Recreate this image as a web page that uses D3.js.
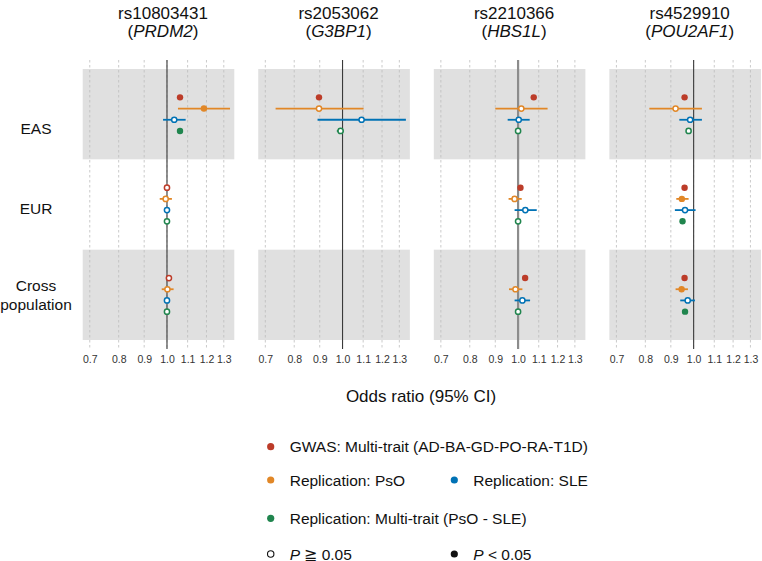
<!DOCTYPE html>
<html>
<head>
<meta charset="utf-8">
<script src="https://cdn.jsdelivr.net/npm/d3@7"></script>
<style>
  html, body { margin: 0; padding: 0; background: #fff; }
  svg { display: block; font-family: "Liberation Sans", Arial, Helvetica, sans-serif; }
</style>
</head>
<body>
<svg id="chart" width="762" height="561"></svg>
<script>
// ---------------- DATA ----------------
const snps = ["rs10803431", "rs2053062", "rs2210366", "rs4529910"];
const genes = ["PRDM2", "G3BP1", "HBS1L", "POU2AF1"];
const populations = ["EAS", "EUR", "Cross population"];
const seriesNames = [
  "GWAS: Multi-trait (AD-BA-GD-PO-RA-T1D)",
  "Replication: PsO",
  "Replication: SLE",
  "Replication: Multi-trait (PsO - SLE)"
];
const seriesColors = ["#BC3C29", "#E18727", "#0072B5", "#20854E"];
const tickValues = [0.7, 0.8, 0.9, 1.0, 1.1, 1.2, 1.3];

// rows: [population, series index, OR, lower CI, upper CI, significant (P < 0.05)]
const rsPRDM2 = [
  ["EAS", 0, 1.062, 1.062, 1.062, true],
  ["EAS", 1, 1.186, 1.052, 1.338, true],
  ["EAS", 2, 1.034, 0.982, 1.090, false],
  ["EAS", 3, 1.062, 1.058, 1.066, true],
  ["EUR", 0, 1.000, 0.997, 1.003, false],
  ["EUR", 1, 0.994, 0.967, 1.023, false],
  ["EUR", 2, 1.000, 0.997, 1.003, false],
  ["EUR", 3, 1.000, 0.998, 1.002, false],
  ["Cross population", 0, 1.009, 1.006, 1.012, false],
  ["Cross population", 1, 1.002, 0.976, 1.031, false],
  ["Cross population", 2, 1.000, 0.997, 1.003, false],
  ["Cross population", 3, 1.000, 0.998, 1.002, false]
];
const rsG3BP1 = [
  ["EAS", 0, 0.897, 0.897, 0.897, true],
  ["EAS", 1, 0.897, 0.734, 1.102, false],
  ["EAS", 2, 1.092, 0.891, 1.340, false],
  ["EAS", 3, 0.991, 0.974, 1.006, false]
];
const rsHBS1L = [
  ["EAS", 0, 1.075, 1.075, 1.075, true],
  ["EAS", 1, 1.015, 0.900, 1.146, false],
  ["EAS", 2, 1.003, 0.953, 1.055, false],
  ["EAS", 3, 1.000, 0.997, 1.003, false],
  ["EUR", 0, 1.011, 1.011, 1.011, true],
  ["EUR", 1, 0.984, 0.957, 1.017, false],
  ["EUR", 2, 1.034, 0.984, 1.090, false],
  ["EUR", 3, 1.000, 0.998, 1.002, false],
  ["Cross population", 0, 1.033, 1.033, 1.033, true],
  ["Cross population", 1, 0.988, 0.959, 1.020, false],
  ["Cross population", 2, 1.020, 0.984, 1.057, false],
  ["Cross population", 3, 1.000, 0.998, 1.002, false]
];
const rsPOU2AF1 = [
  ["EAS", 0, 0.959, 0.959, 0.959, true],
  ["EAS", 1, 0.920, 0.815, 1.039, false],
  ["EAS", 2, 0.984, 0.936, 1.039, false],
  ["EAS", 3, 0.977, 0.975, 0.979, false],
  ["EUR", 0, 0.959, 0.959, 0.959, true],
  ["EUR", 1, 0.947, 0.923, 0.977, true],
  ["EUR", 2, 0.961, 0.917, 1.009, false],
  ["EUR", 3, 0.950, 0.950, 0.950, true],
  ["Cross population", 0, 0.959, 0.959, 0.959, true],
  ["Cross population", 1, 0.946, 0.920, 0.974, true],
  ["Cross population", 2, 0.973, 0.940, 1.006, false],
  ["Cross population", 3, 0.961, 0.961, 0.961, true]
];
const panelData = [rsPRDM2, rsG3BP1, rsHBS1L, rsPOU2AF1];

// ---------------- LAYOUT ----------------
const svg = d3.select("#chart");
const panelLeft0 = 82.7, panelStep = 175.55, panelW = 151.6;
const gridTop = 60, gridBottom = 349;
const bandTop = 69, bandBottom = 340;
const xDomain = [0.6775, 1.3647];

const yRow = d3.scaleBand().domain(populations).range([bandTop, bandBottom]);
const yOff = d3.scalePoint().domain(d3.range(seriesNames.length)).range([-16.8, 16.8]);

snps.forEach((snp, i) => {
  const left = panelLeft0 + i * panelStep;
  const x = d3.scaleLog().domain(xDomain).range([left, left + panelW]);
  const g = svg.append("g");

  // alternating bands
  populations.forEach((p, k) => {
    if (k % 2 === 0) {
      g.append("rect")
        .attr("x", left).attr("width", panelW)
        .attr("y", yRow(p)).attr("height", yRow.bandwidth())
        .attr("fill", "#E0E0E0");
    }
  });

  // dashed gridlines
  g.selectAll("line.grid").data(tickValues).enter().append("line")
    .attr("class", "grid")
    .attr("x1", d => x(d)).attr("x2", d => x(d))
    .attr("y1", gridTop).attr("y2", gridBottom)
    .attr("stroke", "#BDBDBD").attr("stroke-width", 0.8)
    .attr("stroke-dasharray", "2.5,2.5");

  // reference line at OR = 1
  g.append("line")
    .attr("x1", x(1)).attr("x2", x(1))
    .attr("y1", gridTop).attr("y2", gridBottom)
    .attr("stroke", i === 2 ? "#8c8c8c" : "#3a3a3a")
    .attr("stroke-width", i === 2 ? 2.2 : 1.1);

  // tick labels via axis
  const axis = d3.axisBottom(x).tickValues(tickValues).tickFormat(d3.format(".1f")).tickSize(0).tickPadding(0);
  const ax = g.append("g").attr("transform", `translate(0,${356})`).call(axis);
  ax.select(".domain").remove();
  ax.selectAll("text")
    .attr("font-size", 10.5).attr("fill", "#333")
    .attr("font-family", "Liberation Sans, Arial, sans-serif")
    .attr("dy", "0.71em");

  // title
  const cx = left + panelW / 2 + 4.5;
  g.append("text").attr("x", cx).attr("y", 18.5).attr("text-anchor", "middle")
    .attr("font-size", 17).attr("fill", "#111").text(snp);
  const t2 = g.append("text").attr("x", cx).attr("y", 36.5).attr("text-anchor", "middle")
    .attr("font-size", 17).attr("fill", "#111");
  t2.append("tspan").text("(");
  t2.append("tspan").attr("font-style", "italic").text(genes[i]);
  t2.append("tspan").text(")");

  // data marks
  const rows = panelData[i];
  const yOf = d => yRow(d[0]) + yRow.bandwidth() / 2 + yOff(d[1]);
  g.selectAll("line.ci").data(rows).enter().append("line")
    .attr("x1", d => x(d[3])).attr("x2", d => x(d[4]))
    .attr("y1", yOf).attr("y2", yOf)
    .attr("stroke", d => seriesColors[d[1]]).attr("stroke-width", 1.8);
  g.selectAll("circle.pt").data(rows).enter().append("circle")
    .attr("cx", d => x(d[2])).attr("cy", yOf)
    .attr("r", d => d[5] ? 3.2 : 2.6)
    .attr("fill", d => d[5] ? seriesColors[d[1]] : "#fff")
    .attr("stroke", d => seriesColors[d[1]])
    .attr("stroke-width", d => d[5] ? 0 : 1.5);
});

// row labels
const rowFont = 15.5;
svg.append("text").attr("x", 36).attr("y", 133.5).attr("text-anchor", "middle")
  .attr("font-size", rowFont).attr("fill", "#111").text(populations[0]);
svg.append("text").attr("x", 36).attr("y", 213.5).attr("text-anchor", "middle")
  .attr("font-size", rowFont).attr("fill", "#111").text(populations[1]);
const cp = populations[2].split(" ");
svg.append("text").attr("x", 36).attr("y", 290.5).attr("text-anchor", "middle")
  .attr("font-size", rowFont).attr("fill", "#111").text(cp[0]);
svg.append("text").attr("x", 36).attr("y", 309.5).attr("text-anchor", "middle")
  .attr("font-size", rowFont).attr("fill", "#111").text(cp[1]);

// axis title
svg.append("text").attr("x", 421).attr("y", 402).attr("text-anchor", "middle")
  .attr("font-size", 17).attr("fill", "#111").text("Odds ratio (95% CI)");

// legend
const legend = svg.append("g").attr("font-size", 15.5).attr("fill", "#111");
const legItems = [
  { s: 0, x: 270.7, y: 446.7 },
  { s: 1, x: 270.7, y: 480 },
  { s: 2, x: 454.3, y: 480 },
  { s: 3, x: 270.7, y: 518.3 }
];
legItems.forEach(it => {
  legend.append("circle").attr("cx", it.x).attr("cy", it.y).attr("r", 3.6)
    .attr("fill", seriesColors[it.s]);
  legend.append("text").attr("x", it.x + 19).attr("y", it.y + 5.5).text(seriesNames[it.s]);
});
// P symbols
legend.append("circle").attr("cx", 270.7).attr("cy", 554).attr("r", 3.2)
  .attr("fill", "#fff").attr("stroke", "#111").attr("stroke-width", 1.1);
const p1 = legend.append("text").attr("x", 289.7).attr("y", 559.5);
p1.append("tspan").attr("font-style", "italic").text("P");
p1.append("tspan").text(" \u2267 0.05");
legend.append("circle").attr("cx", 454.3).attr("cy", 554).attr("r", 3.6).attr("fill", "#111");
const p2 = legend.append("text").attr("x", 473.3).attr("y", 559.5);
p2.append("tspan").attr("font-style", "italic").text("P");
p2.append("tspan").text(" < 0.05");
</script>
</body>
</html>
